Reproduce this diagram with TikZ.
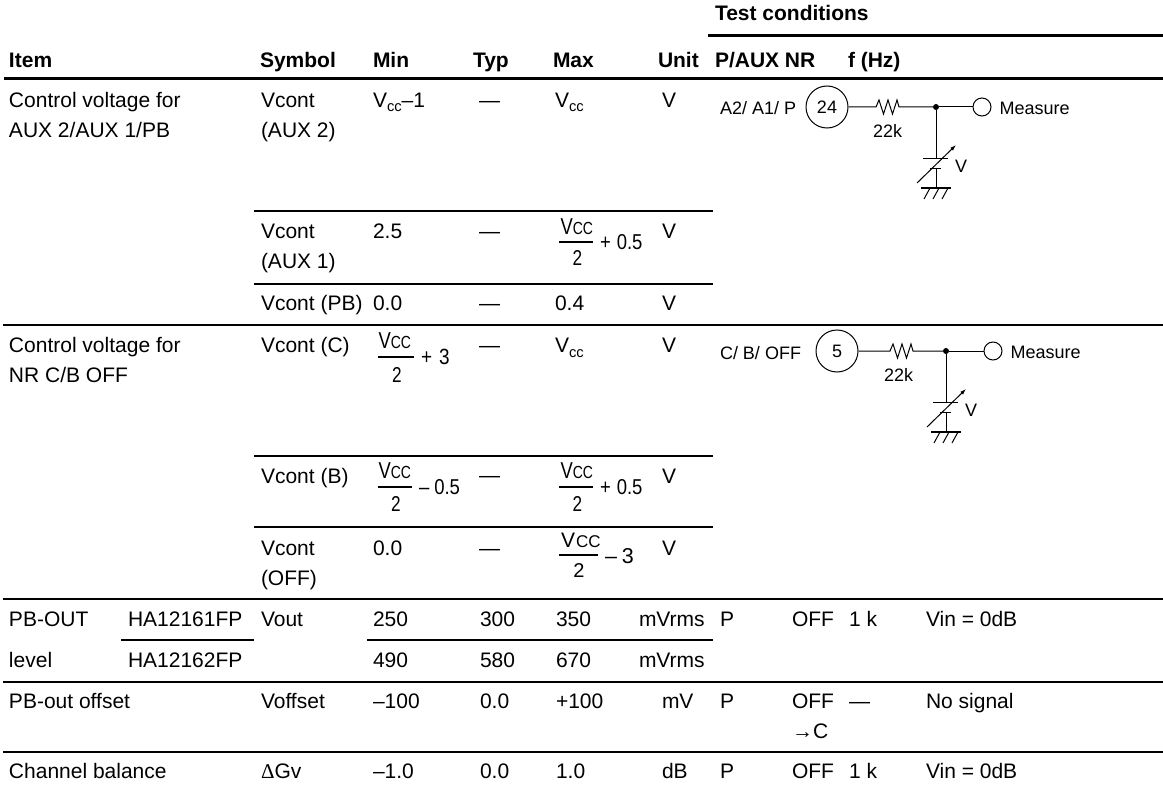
\documentclass[tikz,border=0pt]{standalone}
\usepackage{fontspec}
\setmainfont{Liberation Sans}
\newfontfamily\narrowf[FakeStretch=0.8]{Liberation Sans}
\newfontfamily\narrowg[FakeStretch=0.86]{Liberation Sans}
\newfontfamily\symf{Liberation Serif}
\newcommand\fs[1]{\fontsize{#1}{#1}\selectfont}
\newcommand\vccsub{V\raisebox{-5pt}{\fs{14.7}cc}}
\newcommand\T[4]{\node[txt] (#1) at (#2,#3) {#4};}
\newcommand\B[4]{\node[txt,font=\fs{21}\bfseries] (#1) at (#2,#3) {#4};}
\newcommand\frc[9]{% name, numx, numbase, barx1, barx2, bary, twox, twobase, tail x
  \node[txt] (#1n) at (#2,#3) {\narrowf\fs{23}V\fs{17.5}CC};
  \coordinate (#1a) at (#4,#6); \coordinate (#1b) at (#5,#6);
  \draw[thin rule] (#1a) -- (#1b);
  \node[txt,anchor=base] (#1d) at (#7,#8) {\narrowf\fs{21.5}2};
  \coordinate (#1t) at (#9,#6);}
\newcommand\circuit[8]{% prefix, jx, jy, circle dx, res dx, pin, 22k dx, meas dx
  \begin{scope}[shift={(#2,#3)}]
  \node[junc] (#1j) at (0,0) {};
  \node[pin] (#1p) at (#4,0) {\fs{18}#6};
  \coordinate (#1ra) at (#5,0); \coordinate (#1rb) at (#5+28,0);
  \draw[wire] (#1p) -- (#1ra) -- ++(3,0) -- ++(3,-7) -- ++(4.5,14) -- ++(4.5,-14) -- ++(4.5,14) -- ++(4.5,-14) -- ++(2,7) -- (#1rb) -- (#1j);
  \node[txt,font=\fs{18}] (#1k) at (#5+#7,30) {22k};
  \node[open] (#1m) at (#8,0) {};
  \draw[wire] (#1j) -- (#1m);
  \node[txt,font=\fs{18}] (#1e) at (#8+17.5,7.5) {Measure};
  \coordinate (#1u) at (0,51); \coordinate (#1v) at (0,61); \coordinate (#1g) at (0,81);
  \draw[wire] (#1j) -- (#1u);
  \draw[wire] (-13,51) -- (12,51);
  \draw[wire] (-6,61) -- (5,61);
  \draw[wire] (#1v) -- (#1g);
  \draw[wire,line width=1.5pt] (-15,81) -- (15,81);
  \draw[wire] (-6,81) -- (-12,92) (3,81) -- (-3,92) (12,81) -- (6,92);
  \coordinate (#1s) at (-19,76); \coordinate (#1h) at (20,38);
  \draw[wire,-{Latex[length=6pt,width=4pt]}] (#1s) -- (#1h);
  \node[txt,font=\fs{18}] (#1w) at (19,65) {V};
  \end{scope}}
\usetikzlibrary{arrows.meta}
\tikzset{
  txt/.style={anchor=base west,inner sep=0pt,outer sep=0pt,font=\fs{21}},
  thin rule/.style={line width=2pt,black},
  thick rule/.style={line width=3pt,black},
  wire/.style={line width=1pt,black},
  junc/.style={circle,fill=black,inner sep=0pt,minimum size=6pt},
  pin/.style={circle,draw=black,line width=1pt,inner sep=0pt,minimum size=42pt},
  open/.style={circle,draw=black,line width=1pt,inner sep=0pt,minimum size=18pt},
}
\begin{document}
\begin{tikzpicture}[x=1pt,y=-1pt]
\useasboundingbox[fill=white] (0,0) rectangle (1163,792);
% rules
\foreach \a/\b/\c/\s in {708/1163/36/thick rule,4/1163/79/thick rule,
  254/713/211/thin rule,254/713/284/thin rule,3/1163/325/thin rule,
  254/713/456/thin rule,254/713/527/thin rule,3/1163/599/thin rule,
  121/254/640/thin rule,367/713/640/thin rule,3/1163/682/thin rule,3/1163/752/thin rule}
  {\draw[\s] (\a,\c) -- (\b,\c);}
% header
\B{h0}{715}{21}{Test conditions}
\B{h1}{9}{68}{Item}
\B{h2}{260}{68}{Symbol}
\B{h3}{373}{68}{Min}
\B{h4}{473}{68}{Typ}
\B{h5}{553}{68}{Max}
\B{h6}{658}{68}{Unit}
\B{h7}{715}{68}{P/AUX NR}
\B{h8}{848}{68}{f (Hz)}
% row AUX2
\T{a1}{9}{107}{Control voltage for}
\T{a2}{9}{137}{AUX 2/AUX 1/PB}
\T{a3}{261}{107}{Vcont}
\T{a4}{261}{137}{(AUX 2)}
\T{a5}{373}{107}{\vccsub–1}
\T{a6}{479}{107}{—}
\T{a7}{555}{107}{\vccsub}
\T{a8}{662}{107}{V}
% row AUX1
\T{b1}{261}{238}{Vcont}
\T{b2}{261}{268}{(AUX 1)}
\T{b3}{373}{238}{2.5}
\T{b4}{479}{238}{—}
\frc{f1}{560.5}{234}{558.5}{593}{242}{577.5}{265}{600}
\node[txt] (f1x) at (600,249) {\narrowg\fs{21.5}+\hspace{6pt}0.5};
\T{b5}{662}{238}{V}
% row PB
\T{c1}{261}{310}{Vcont (PB)}
\T{c2}{373}{310}{0.0}
\T{c3}{479}{310}{—}
\T{c4}{555}{310}{0.4}
\T{c5}{662}{310}{V}
% row C
\T{d1}{9}{352}{Control voltage for}
\T{d2}{9}{382}{NR C/B OFF}
\T{d3}{261}{352}{Vcont (C)}
\frc{f2}{378.5}{348}{378}{414}{357}{397}{382}{421}
\node[txt] (f2x) at (421,364) {\narrowg\fs{22}+\hspace{7pt}3};
\T{d4}{479}{352}{—}
\T{d5}{555}{352}{\vccsub}
\T{d6}{662}{352}{V}
% row B
\T{e1}{261}{483}{Vcont (B)}
\frc{f3}{378.5}{478}{378}{412}{487}{396}{511}{419}
\node[txt] (f3x) at (419,494) {\narrowg\fs{21.5}–\hspace{5pt}0.5};
\T{e2}{479}{482}{—}
\frc{f4}{560.5}{478}{559}{593}{487}{577.5}{511}{600}
\node[txt] (f4x) at (600,494) {\narrowg\fs{21.5}+\hspace{6pt}0.5};
\T{e3}{662}{483}{V}
% row OFF
\T{g1}{261}{555}{Vcont}
\T{g2}{261}{585}{(OFF)}
\T{g3}{373}{555}{0.0}
\T{g4}{479}{555}{—}
\node[txt] (f5n) at (561,547) {\fs{21}V\hspace{1pt}\fs{17}CC};
\coordinate (f5a) at (559,555); \coordinate (f5b) at (598,555);
\draw[thin rule] (f5a) -- (f5b);
\node[txt,anchor=base] (f5d) at (579,577) {\fs{20}2};
\node[txt] (f5x) at (605,563) {\fs{21.5}–\hspace{5pt}3};
\T{g5}{662}{555}{V}
% PB-OUT
\T{i1}{9}{626}{PB-OUT}
\T{i2}{128}{626}{HA12161FP}
\T{i3}{261}{626}{Vout}
\T{i4}{373}{626}{250}
\T{i5}{480}{626}{300}
\T{i6}{556}{626}{350}
\T{i7}{639}{626}{mVrms}
\T{i8}{720}{626}{P}
\T{i9}{792}{626}{OFF}
\T{i10}{849}{626}{1 k}
\T{i11}{926}{626}{Vin = 0dB}
\T{j1}{9}{667}{level}
\T{j2}{128}{667}{HA12162FP}
\T{j3}{373}{667}{490}
\T{j4}{480}{667}{580}
\T{j5}{556}{667}{670}
\T{j6}{639}{667}{mVrms}
% offset
\T{k1}{9}{708}{PB-out offset}
\T{k2}{261}{708}{Voffset}
\T{k3}{373}{708}{–100}
\T{k4}{480}{708}{0.0}
\T{k5}{556}{708}{+100}
\T{k6}{662}{708}{mV}
\T{k7}{720}{708}{P}
\T{k8}{792}{708}{OFF}
\T{k9}{849}{708}{—}
\T{k10}{926}{708}{No signal}
\T{k11}{792}{738}{{\symf →}C}
% balance
\T{l1}{9}{778}{Channel balance}
\T{l2}{261}{778}{{\symf Δ}Gv}
\T{l3}{373}{778}{–1.0}
\T{l4}{480}{778}{0.0}
\T{l5}{556}{778}{1.0}
\T{l6}{662}{778}{dB}
\T{l7}{720}{778}{P}
\T{l8}{792}{778}{OFF}
\T{l9}{849}{778}{1 k}
\T{l10}{926}{778}{Vin = 0dB}
% circuits
\node[txt,font=\fs{18}] (pl) at (720,114.5) {A2/ A1/ P};
\node[txt,font=\fs{18}] (ql) at (720,359) {C/ B/ OFF};
\circuit{p}{936}{107}{-109}{-63}{24}{0}{46}
\circuit{q}{946}{351}{-109}{-59}{5}{-3}{47}
\end{tikzpicture}
\end{document}
